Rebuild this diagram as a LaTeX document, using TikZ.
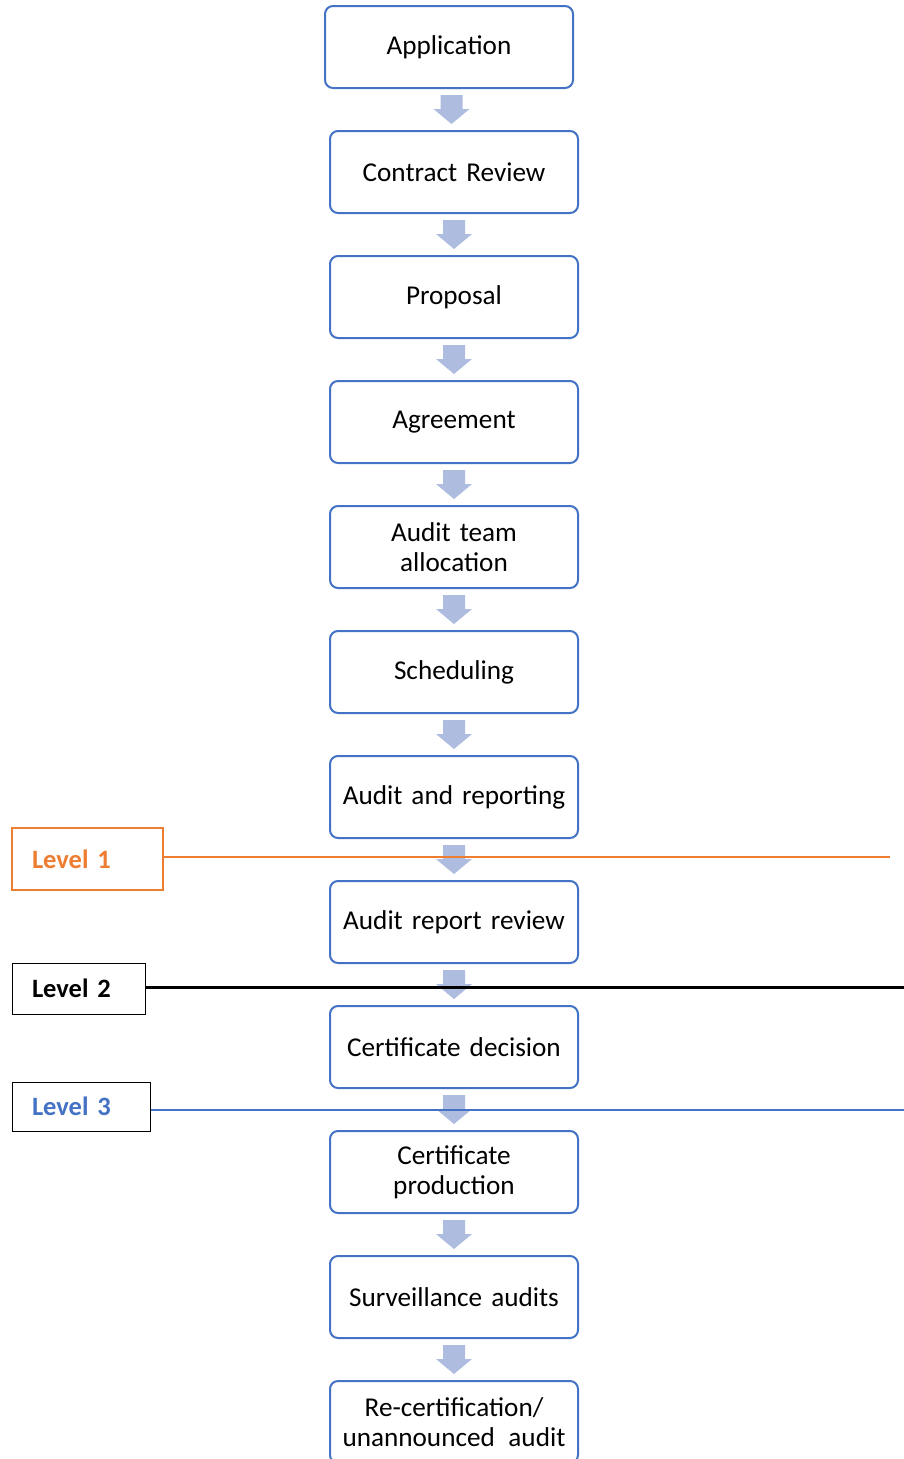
\documentclass[tikz,border=0pt]{standalone}
\usepackage{fontspec}
\setmainfont{Carlito}
\usetikzlibrary{calc}
\definecolor{boxblue}{HTML}{4472C4}
\definecolor{flowfill}{HTML}{AEBCE0}
\definecolor{lvlorange}{HTML}{ED7D31}
\tikzset{
  stepbox/.style={draw=boxblue, line width=2pt, rounded corners=8pt, fill=white,
    minimum width=248pt, minimum height=82pt, text width=244pt, align=center,
    inner sep=0pt, font=\fontsize{27.2}{30}\selectfont},
  lvlbox/.style={draw, line width=1pt, inner xsep=20pt, inner ysep=0pt, align=left,
    font=\fontsize{26.5}{30}\selectfont\bfseries},
}
\newcommand\flowarrow[2]{%
  \fill[flowfill] let \p1=(#1.south), \p2=(#2.north), \n1={(\x1+\x2)/2} in
  ({\n1-11pt},{\y1-6pt}) -- ({\n1+11pt},{\y1-6pt}) -- ({\n1+11pt},{\y2+21pt}) --
  ({\n1+18pt},{\y2+21pt}) -- ({\n1},{\y2+6pt}) -- ({\n1-18pt},{\y2+21pt}) --
  ({\n1-11pt},{\y2+21pt}) -- cycle;}
\begin{document}
\begin{tikzpicture}[x=1pt,y=-1pt]
\useasboundingbox (0,0) rectangle (904,1459);
\fill[white] (0,0) rectangle (904,1459);
\node[stepbox] (s1) at (449,47) {Application};
\node[stepbox] (s2) at (454,172) {Contract Review};
\node[stepbox] (s3) at (454,297) {Proposal};
\node[stepbox] (s4) at (454,422) {Agreement};
\node[stepbox] (s5) at (454,547) {Audit team\\allocation};
\node[stepbox] (s6) at (454,672) {Scheduling};
\node[stepbox] (s7) at (454,797) {Audit and reporting};
\node[stepbox] (s8) at (454,922) {Audit report review};
\node[stepbox] (s9) at (454,1047) {Certificate decision};
\node[stepbox] (s10) at (454,1172) {Certificate\\production};
\node[stepbox] (s11) at (454,1297) {Surveillance audits};
\node[stepbox] (s12) at (454,1422) {Re-certification/\\unannounced~\,audit};
\flowarrow{s1}{s2}
\flowarrow{s2}{s3}
\flowarrow{s3}{s4}
\flowarrow{s4}{s5}
\flowarrow{s5}{s6}
\flowarrow{s6}{s7}
\flowarrow{s7}{s8}
\flowarrow{s8}{s9}
\flowarrow{s9}{s10}
\flowarrow{s10}{s11}
\flowarrow{s11}{s12}
% levels
\node[lvlbox, draw=lvlorange, line width=2pt, text=lvlorange, minimum width=151pt, minimum height=62pt, text width=111pt] (l1) at (87.5,859) {Level 1};
\node[lvlbox, text=black, minimum width=133pt, minimum height=51pt, text width=93pt] (l2) at (78.5,988.5) {Level 2};
\node[lvlbox, text=boxblue, minimum width=138pt, minimum height=49pt, text width=98pt] (l3) at (81,1106.5) {Level 3};
\coordinate (e1) at (890,857);
\coordinate (e2) at (904,987);
\coordinate (e3) at (904,1110);
\draw[lvlorange, line width=1.5pt] (l1.east |- e1) -- (e1);
\draw[black, line width=3pt] (l2.east |- e2) -- (e2);
\draw[boxblue, line width=2pt] (l3.east |- e3) -- (e3);
\end{tikzpicture}
\end{document}
